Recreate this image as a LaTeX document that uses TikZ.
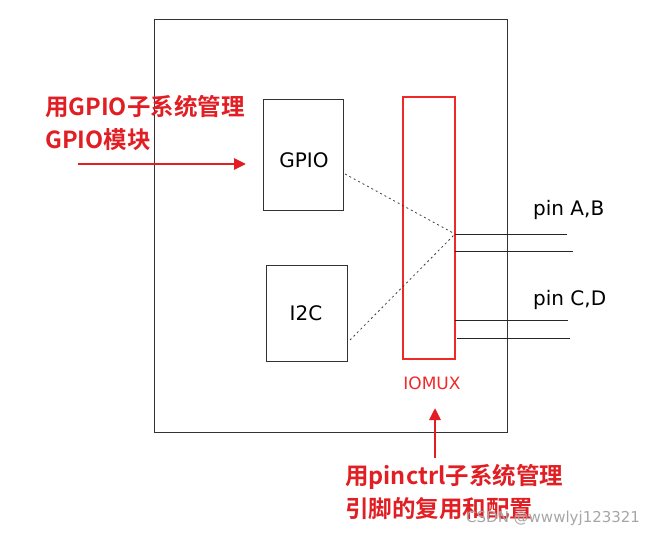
\documentclass[tikz,border=0pt]{standalone}
\usepackage{fontspec}
\newfontfamily\cjk{Noto Sans CJK SC}[BoldFont={Noto Sans CJK SC Bold}]
\newfontfamily\hand{DejaVu Sans}
\usetikzlibrary{arrows.meta}
\definecolor{lred}{RGB}{225,30,35}
\definecolor{pred}{RGB}{240,40,40}
\tikzset{
  box/.style={draw=black!80, line width=1pt},
  mux/.style={draw=pred, line width=1.3pt},
  pinline/.style={draw=black!85, line width=1pt},
  dots/.style={draw=black!75, line width=0.8pt, dash pattern=on 2pt off 3pt},
  rarrow/.style={draw=lred, line width=2.8pt, -{Triangle[length=12pt,width=11pt]}},
  rtext/.style={text=lred, font=\cjk\bfseries\fontsize{23.5}{33}\selectfont, align=left, inner sep=0pt, anchor=north west},
  htext/.style={font=\hand\fontsize{20}{22}\selectfont, inner sep=0pt},
}
\begin{document}
\begin{tikzpicture}[x=1pt,y=-1pt]
\useasboundingbox (0,0) rectangle (650,537);
% outer box
\draw[box] (154,20) rectangle (507,432);
% GPIO box
\node[box, minimum width=80pt, minimum height=111pt, inner sep=0pt] (gpio) at (303,155.5) {};
\node[htext] (gpiot) at (304,160) {GPIO};
% I2C box
\node[box, minimum width=81pt, minimum height=96pt, inner sep=0pt] (i2c) at (306.5,313) {};
\node[htext] (i2ct) at (306,313) {I2C};
% IOMUX
\node[mux, minimum width=52pt, minimum height=262pt, inner sep=0pt] (iomux) at (429,228) {};
\node[htext, text=pred, font=\hand\fontsize{17}{19}\selectfont] (muxt) at (432,383) {IOMUX};
% mux junction
\coordinate (j) at (455,234);
\draw[dots] (345,174) -- (j);
\draw[dots] (350,340) -- (j);
% pins
\coordinate (pa1) at (567,235);
\coordinate (pa2) at (573,252);
\coordinate (pc1) at (568,320);
\coordinate (pc2) at (570,338);
\draw[pinline] (455,235) -- (pa1);
\draw[pinline] (455,252) -- (pa2);
\draw[pinline] (455,320) -- (pc1);
\draw[pinline] (457,338) -- (pc2);
\node[htext, anchor=west] (pab) at (533,210) {pin A,B};
\node[htext, anchor=west] (pcd) at (533,300) {pin C,D};
% red annotations
\node[rtext] (t1) at (45,95) {用GPIO子系统管理\\GPIO模块};
\coordinate (a1s) at (78,164);
\coordinate (a1e) at (246,164);
\draw[rarrow] (a1s) -- (a1e);
\node[rtext] (t2) at (345,464) {用pinctrl子系统管理\\引脚的复用和配置};
\coordinate (a2s) at (435,458);
\coordinate (a2e) at (435,408);
\draw[rarrow] (a2s) -- (a2e);
\node[text=black!35, font=\hand\fontsize{15}{17}\selectfont, anchor=west, inner sep=0pt] (wm) at (466,518) {CSDN @wwwlyj123321};
\end{tikzpicture}
\end{document}
